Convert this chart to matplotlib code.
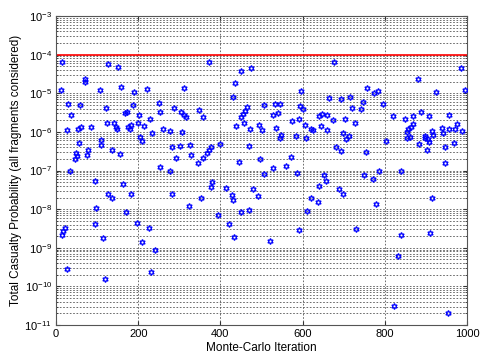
"""Monte-Carlo scatter of total casualty probability with 1e-4 limit line."""
import matplotlib

matplotlib.use("Agg")
import matplotlib.pyplot as plt
from matplotlib.ticker import LogLocator, NullFormatter

# values
iteration = [
    15, 126, 150, 70, 71, 13, 107, 30, 59, 121, 37, 27, 53, 62, 85, 124, 141,
    146, 148, 56, 109, 109, 135, 78, 75, 49, 50, 47, 33, 94, 127, 135, 98, 96,
    22, 18, 15, 115, 27, 120,
    158, 190, 221, 311, 187, 167, 172, 202, 229, 250, 254, 286, 305, 311, 317,
    183, 175, 180, 200, 213, 205, 209, 233, 261, 278, 307, 155, 281, 302, 293,
    252, 277, 163, 182, 283, 170, 196, 226, 208, 240, 230,
    372, 450, 475, 436, 430, 349, 358, 465, 460, 456, 451, 458, 439, 473, 326,
    329, 345, 357, 367, 372, 378, 399, 469, 446, 379, 378, 414, 428, 430, 353,
    323, 479, 450, 470, 394, 420, 432,
    495, 500, 507, 528, 539, 533, 545, 535, 547, 545, 573, 584, 595, 594, 600,
    591, 606, 609, 621, 625, 641, 648, 645, 496, 505, 528, 560, 571, 587, 491,
    641, 621, 638, 610, 592, 521,
    676, 659, 660, 665, 694, 715, 719, 673, 702, 728, 757, 774, 783, 746, 742,
    796, 699, 712, 705, 682, 693, 755, 802, 653, 658, 689, 698, 749, 771, 786,
    779, 731,
    985, 994, 881, 925, 819, 848, 869, 888, 908, 955, 975, 989, 972, 957, 938,
    942, 868, 863, 856, 855, 853, 861, 914, 918, 899, 897, 904, 907, 884, 902,
    947, 969, 946, 839, 914, 839, 910, 833, 823, 954,
]
casualty_prob = [
    6.3e-5, 5.7e-5, 4.7e-5, 2.3e-5, 1.95e-5, 1.19e-5, 1.21e-5, 5.2e-6, 4.9e-6,
    4.05e-6, 2.8e-6, 1.11e-6, 1.16e-6, 1.31e-6, 1.31e-6, 1.66e-6, 1.66e-6,
    1.31e-6, 1.16e-6, 5.3e-7, 6.1e-7, 4.7e-7, 3.4e-7, 3.4e-7, 2.5e-7, 2.9e-7,
    2.4e-7, 2.0e-7, 9.6e-8, 5.5e-8, 2.4e-8, 1.93e-8, 1.04e-8, 4.2e-9, 3.2e-9,
    2.7e-9, 2.2e-9, 1.8e-9, 2.8e-10, 1.57e-10,
    1.42e-5, 1.05e-5, 1.28e-5, 1.36e-5, 5.0e-6, 3.0e-6, 3.3e-6, 2.8e-6, 2.2e-6,
    5.5e-6, 3.2e-6, 4.05e-6, 3.3e-6, 2.8e-6, 2.4e-6, 1.5e-6, 1.3e-6, 1.18e-6,
    1.72e-6, 1.39e-6, 7.5e-7, 5.8e-7, 9.1e-7, 1.16e-6, 1.05e-6, 9.9e-7, 2.6e-7,
    4.0e-7, 4.3e-7, 2.1e-7, 1.2e-7, 9.5e-8, 4.6e-8, 2.4e-8, 2.4e-8, 8.5e-9,
    4.4e-9, 3.2e-9, 1.37e-9, 9.0e-10, 2.4e-10,
    6.6e-5, 3.8e-5, 4.4e-5, 1.88e-5, 7.8e-6, 3.7e-6, 2.4e-6, 4.3e-6, 3.5e-6,
    2.9e-6, 2.5e-6, 1.69e-6, 1.39e-6, 1.16e-6, 4.6e-7, 2.5e-7, 1.56e-7, 2.1e-7,
    2.9e-7, 3.4e-7, 4.0e-7, 4.8e-7, 4.3e-7, 1.62e-7, 5.1e-8, 3.8e-8, 3.5e-8,
    2.3e-8, 1.68e-8, 1.89e-8, 1.2e-8, 3.3e-8, 8.2e-9, 9.4e-9, 6.9e-9, 4.2e-9,
    1.88e-9,
    1.5e-6, 1.11e-6, 4.9e-6, 2.8e-6, 3.1e-6, 5.4e-6, 5.4e-6, 1.23e-6, 8.1e-7,
    6.9e-7, 1.94e-6, 7.9e-7, 1.14e-5, 4.6e-6, 4.0e-6, 2.2e-6, 1.5e-6, 7.0e-7,
    1.2e-6, 1.09e-6, 2.6e-6, 2.9e-6, 1.41e-6, 1.94e-7, 8.1e-8, 1.13e-7, 1.33e-7,
    2.3e-7, 8.7e-8, 2.2e-8, 3.9e-8, 1.97e-8, 1.49e-8, 8.9e-9, 2.8e-9, 1.48e-9,
    6.3e-5, 2.8e-6, 1.09e-6, 7.4e-6, 6.9e-6, 7.8e-6, 4.1e-6, 2.0e-6, 2.2e-6,
    1.66e-6, 1.34e-5, 9.9e-6, 1.16e-5, 6.0e-6, 3.8e-6, 5.4e-6, 9.1e-7, 7.9e-7,
    6.4e-7, 4.0e-7, 3.2e-7, 3.1e-7, 5.8e-7, 7.8e-8, 5.3e-8, 3.4e-8, 2.5e-8,
    7.8e-8, 6.0e-8, 9.5e-8, 1.35e-8, 3.0e-9,
    4.4e-5, 1.21e-5, 2.4e-5, 1.07e-5, 2.6e-6, 2.2e-6, 2.6e-6, 3.3e-6, 2.6e-6,
    2.8e-6, 1.56e-6, 1.05e-6, 1.16e-6, 1.16e-6, 1.25e-6, 9.5e-7, 1.59e-6,
    1.36e-6, 1.16e-6, 1.01e-6, 7.0e-7, 7.3e-7, 1.03e-6, 8.4e-7, 7.8e-7, 7.0e-7,
    6.6e-7, 5.4e-7, 4.8e-7, 3.4e-7, 4.0e-7, 5.3e-7, 1.58e-7, 9.8e-8, 2.0e-8,
    2.2e-9, 2.4e-9, 6.0e-10, 3.1e-11, 2.1e-11,
]
limit_prob = 1e-4
x_ticks = [0, 200, 400, 600, 800, 1000]
y_ticks = [1e-11, 1e-10, 1e-9, 1e-8, 1e-7, 1e-6, 1e-5, 1e-4, 1e-3]

plt.rcParams.update({
    "font.family": ["Liberation Sans", "DejaVu Sans"],
    "font.size": 8,
    "mathtext.fontset": "custom",
    "mathtext.rm": "Liberation Sans",
    "mathtext.it": "Liberation Sans",
})

fig = plt.figure(figsize=(4.85, 3.59), dpi=100)
ax = fig.add_axes([0.1155, 0.0947, 0.8474, 0.8607])

ax.axhline(limit_prob, color="#ff0000", linewidth=1.2, zorder=2)
ax.plot(
    iteration, casualty_prob, linestyle="none",
    marker=(6, 1, 0), markersize=4.3, markerfacecolor="none",
    markeredgecolor="#0000ff", markeredgewidth=0.9, zorder=3,
)

ax.set_yscale("log")
ax.set_xlim(0, 1000)
ax.set_xticks(x_ticks)
ax.set_yticks(y_ticks)
ax.yaxis.set_minor_locator(LogLocator(base=10, subs=range(2, 10), numticks=100))
ax.yaxis.set_minor_formatter(NullFormatter())
ax.set_ylim(1e-11, 1e-3)

grid_style = dict(color="#555555", linestyle=(0, (2, 2)), linewidth=0.6)
ax.grid(True, which="major", axis="both", **grid_style)
ax.grid(True, which="minor", axis="y", **grid_style)
ax.set_axisbelow(True)

ax.tick_params(which="both", direction="in", top=True, right=True,
               colors="#333333", labelcolor="black")
ax.tick_params(which="major", length=3, pad=3)
ax.tick_params(which="minor", length=1.5)
for spine in ax.spines.values():
    spine.set_color("#555555")
    spine.set_linewidth(0.8)

ax.set_xlabel("Monte-Carlo Iteration", fontsize=8.5, labelpad=2)
ax.set_ylabel("Total Casualty Probability (all fragments considered)",
              fontsize=8.5, labelpad=2)

fig.savefig("out.png", dpi=100)
